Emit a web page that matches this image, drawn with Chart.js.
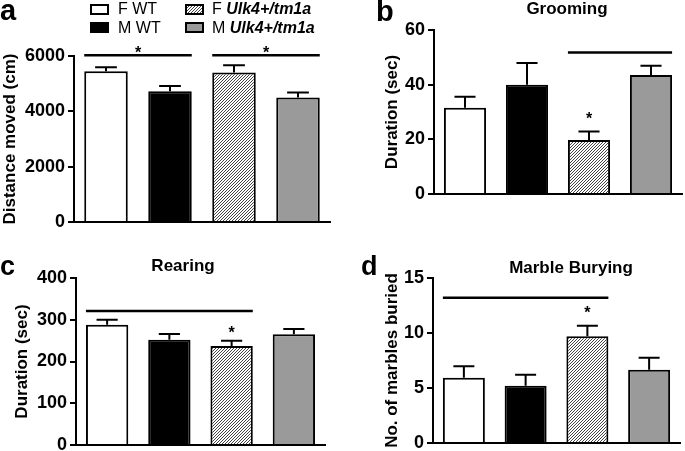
<!DOCTYPE html>
<html>
<head>
<meta charset="utf-8">
<script src="https://cdn.jsdelivr.net/npm/chart.js@4"></script>
<style>
body{margin:0;background:#fff;width:685px;height:451px;position:relative;overflow:hidden;font-family:"Liberation Sans",Arial,sans-serif;}
canvas{position:absolute;}
.box{position:absolute;width:15px;height:7px;border:2px solid #000;}
.lbl{position:absolute;font-size:16px;line-height:16px;color:#000;white-space:nowrap;}
.lbl i{font-weight:bold;}
</style>
</head>
<body>
<canvas id="pa" width="340" height="242" style="left:0;top:0"></canvas>
<canvas id="pb" width="345" height="214" style="left:340px;top:0"></canvas>
<canvas id="pc" width="340" height="240" style="left:0;top:225px"></canvas>
<canvas id="pd" width="345" height="238" style="left:340px;top:225px"></canvas>

<div class="box" style="left:90px;top:4px;background:#fff"></div>
<div class="lbl" style="left:118px;top:1px">F WT</div>
<div class="box" style="left:90px;top:22px;background:#000"></div>
<div class="lbl" style="left:118px;top:20px">M WT</div>
<div class="box" style="left:185px;top:4px;background:repeating-linear-gradient(135deg,#fff 0 1.2px,#444 1.2px 2.1px)"></div>
<div class="lbl" style="left:212px;top:1px">F <i>Ulk4+/tm1a</i></div>
<div class="box" style="left:185px;top:22px;background:#9a9a9a"></div>
<div class="lbl" style="left:212px;top:20px">M <i>Ulk4+/tm1a</i></div>

<script>
const groups = ['F WT', 'M WT', 'F Ulk4+/tm1a', 'M Ulk4+/tm1a'];

// a: distance moved (cm)
const distMean = [5450, 4730, 5400, 4500];
const distSem = [140, 190, 265, 180];
const distSig = [[0, 1, 6025], [2, 3, 6025]];
const distStars = [[0.5, 6250], [2.5, 6250]];

// b: grooming (sec)
const groomMean = [31.6, 40.0, 19.8, 43.5];
const groomSem = [4.0, 7.9, 3.1, 3.4];
const groomSig = [[2, 3, 51.8]];
const groomStars = [[2, 29]];

// c: rearing (sec)
const rearMean = [288, 252, 237, 265];
const rearSem = [12, 14, 13, 13];
const rearSig = [[0, 2, 321]];
const rearStars = [[2, 278]];

// d: marbles buried
const marbleMean = [5.94, 5.21, 9.7, 6.67];
const marbleSem = [1.03, 1.0, 0.97, 1.09];
const marbleSig = [[0, 2, 13.2]];
const marbleStars = [[2, 12.2]];

const FONT = '"Liberation Sans", Arial, sans-serif';

function hatch() {
    const c = document.createElement('canvas');
    c.width = 3; c.height = 3;
    const g = c.getContext('2d');
    g.fillStyle = '#fff';
    g.fillRect(0, 0, 3, 3);
    g.fillStyle = '#444';
    g.fillRect(0, 2, 1, 1);
    g.fillRect(1, 1, 1, 1);
    g.fillRect(2, 0, 1, 1);
    return g.createPattern(c, 'repeat');
}
const fills = ['#ffffff', '#000000', hatch(), '#9a9a9a'];

const marks = {
    id: 'marks',
    afterDatasetsDraw(chart, args, o) {
        const {ctx, scales: {y}} = chart;
        const bars = chart.getDatasetMeta(0).data;
        ctx.save();
        ctx.strokeStyle = '#000';
        ctx.lineWidth = 2;
        o.sem.forEach((s, i) => {
            const b = bars[i];
            const top = y.getPixelForValue(o.mean[i] + s);
            const half = b.width / 4;
            ctx.beginPath();
            ctx.moveTo(b.x, b.y);
            ctx.lineTo(b.x, top);
            ctx.moveTo(b.x - half, top);
            ctx.lineTo(b.x + half, top);
            ctx.stroke();
        });
        ctx.lineWidth = 2.5;
        o.sig.forEach(([from, to, v]) => {
            const py = y.getPixelForValue(v);
            ctx.beginPath();
            ctx.moveTo(bars[from].x - bars[from].width / 2, py);
            ctx.lineTo(bars[to].x + bars[to].width / 2, py);
            ctx.stroke();
        });
        ctx.fillStyle = '#000';
        ctx.textAlign = 'center';
        ctx.font = 'bold 16px ' + FONT;
        o.stars.forEach(([pos, v]) => {
            const i = Math.floor(pos), f = pos - i;
            const x = f ? bars[i].x + (bars[i + 1].x - bars[i].x) * f : bars[i].x;
            ctx.fillText('*', x, y.getPixelForValue(v) + 9);
        });
        if (o.title) {
            ctx.font = 'bold 17px ' + FONT;
            ctx.fillText(o.title[0], o.title[1], o.title[2]);
        }
        ctx.textAlign = 'left';
        ctx.font = 'bold ' + o.letter[3] + 'px ' + FONT;
        ctx.fillText(o.letter[0], o.letter[1], o.letter[2]);
        ctx.restore();
    }
};

function makeChart(id, mean, sem, cfg) {
    new Chart(document.getElementById(id), {
        type: 'bar',
        data: {
            labels: groups,
            datasets: [{
                data: mean,
                backgroundColor: fills,
                borderColor: '#000',
                borderWidth: 2,
                barPercentage: 0.68,
                categoryPercentage: 1
            }]
        },
        options: {
            responsive: false,
            animation: false,
            events: [],
            layout: {padding: cfg.pad},
            plugins: {
                legend: {display: false},
                tooltip: {enabled: false},
                marks: {mean: mean, sem: sem, sig: cfg.sig, stars: cfg.stars, title: cfg.title, letter: cfg.letter}
            },
            scales: {
                x: {
                    ticks: {display: false},
                    grid: {drawOnChartArea: false, drawTicks: false},
                    border: {color: '#000', width: 2}
                },
                y: {
                    min: 0,
                    max: cfg.max,
                    ticks: {stepSize: cfg.step, color: '#000', padding: 3, callback: v => String(v),
                        font: {family: FONT, size: 18, weight: 'bold'}},
                    grid: {drawOnChartArea: false, color: '#000', lineWidth: 2, tickLength: 6},
                    border: {color: '#000', width: 2},
                    title: {display: true, text: cfg.ytitle, color: '#000', padding: 0, font: {family: FONT, size: 17, weight: 'bold'}},
                    afterFit(s) { s.width = cfg.yw; }
                }
            }
        },
        plugins: [marks]
    });
}

makeChart('pa', distMean, distSem, {
    max: 6000, step: 2000, ytitle: 'Distance moved (cm)', yw: 74,
    pad: {left: 0, top: 56, right: 10, bottom: 20},
    sig: distSig, stars: distStars, title: null, letter: ['a', 0, 20, 29]
});
makeChart('pb', groomMean, groomSem, {
    max: 60, step: 20, ytitle: 'Duration (sec)', yw: 52,
    pad: {left: 42, top: 30, right: 3, bottom: 20},
    sig: groomSig, stars: groomStars, title: ['Grooming', 227, 14], letter: ['b', 36, 21, 29]
});
makeChart('pc', rearMean, rearSem, {
    max: 400, step: 100, ytitle: 'Duration (sec)', yw: 64,
    pad: {left: 12, top: 53, right: 15, bottom: 20},
    sig: rearSig, stars: rearStars, title: ['Rearing', 183, 46], letter: ['c', 0, 50, 27]
});
makeChart('pd', marbleMean, marbleSem, {
    max: 15, step: 5, ytitle: 'No. of marbles buried', yw: 51,
    pad: {left: 42, top: 53, right: 5, bottom: 20},
    sig: marbleSig, stars: marbleStars, title: ['Marble Burying', 231, 48], letter: ['d', 21, 50, 27]
});
</script>
</body>
</html>
